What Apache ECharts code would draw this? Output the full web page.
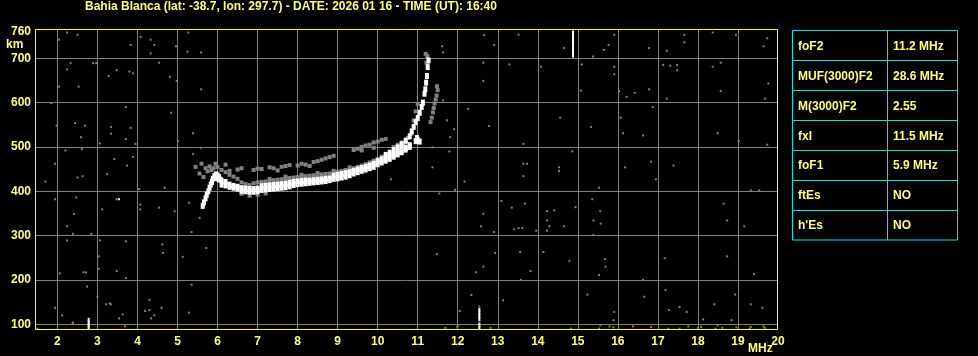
<!DOCTYPE html>
<html><head><meta charset="utf-8">
<script src="https://cdn.jsdelivr.net/npm/echarts@6/dist/echarts.min.js"></script>
<style>html,body{margin:0;padding:0;background:#000;}#c{width:978px;height:356px;}</style>
</head><body><div id="c"></div>
<script>
const titleText = 'Bahia Blanca (lat: -38.7, lon: 297.7) - DATE: 2026 01 16 - TIME (UT): 16:40';
const xTicks = [2,3,4,5,6,7,8,9,10,11,12,13,14,15,16,17,18,19];
const xLabels = [2,3,4,5,6,7,8,9,10,11,12,13,14,15,16,17,18,19,20];
const yTicks = [100,200,300,400,500,600,700];
const yLabels = [100,200,300,400,500,600,700,760];
const tableNames = ['foF2','MUF(3000)F2','M(3000)F2','fxI','foF1','ftEs',"h'Es"];
const tableValues = ['11.2 MHz','28.6 MHz','2.55','11.5 MHz','5.9 MHz','NO','NO'];

// bright echo trace (frequency MHz, virtual height km)
const whiteTrace = [
 [5.63,367],[5.66,375],[5.70,384],[5.73,392],[5.77,400],[5.80,408],[5.83,415],[5.86,421],
 [5.88,428],[5.92,434],[5.96,438],[6.00,436],[6.04,432],[5.95,430],[6.02,428],[6.07,426],
 [6.1,415],[6.1,424],[6.2,413],[6.2,421],[6.3,410],[6.3,415],[6.4,408],[6.4,412],[6.5,406],[6.5,410],
 [6.6,401],[6.6,407],[6.7,400],[6.7,406],[6.8,399],[6.8,405],[6.9,399],[6.9,405],[7.0,400],[7.0,406],
 [7.1,403],[7.1,411],[7.2,404],[7.2,412],[7.3,405],[7.3,413],[7.4,406],[7.4,414],[7.5,407],[7.5,415],
 [7.6,408],[7.6,416],[7.7,409],[7.7,417],[7.8,411],[7.8,419],[7.9,414],[7.9,421],[8.0,416],[8.0,422],
 [8.1,417],[8.1,423],[8.2,418],[8.2,424],[8.3,419],[8.3,424],[8.4,420],[8.4,425],[8.5,421],[8.5,426],
 [8.6,422],[8.6,427],[8.7,423],[8.7,428],[8.8,425],[8.8,429],[8.9,428],[8.9,435],[9.0,429],[9.0,437],
 [9.1,431],[9.1,439],[9.2,433],[9.2,441],[9.3,436],[9.3,443],[9.4,440],[9.4,446],[9.5,443],[9.5,449],
 [9.6,446],[9.6,452],[9.7,449],[9.7,455],[9.8,452],[9.8,458],[9.9,455],[9.9,462],[10.0,461],[10.0,468],
 [10.1,465],[10.1,472],[10.2,469],[10.2,476],[10.3,473],[10.3,480],[10.4,478],[10.4,484],[10.5,483],[10.5,488],
 [10.6,488],[10.6,493],[10.7,494],[10.7,498],[10.8,500],[10.8,504],
 [10.2,482],[10.3,487],[10.4,493],[10.5,499],[10.6,506],[10.7,514],[10.8,524],[10.85,535],[10.9,545],
 [10.95,556],[11.0,565],[11.05,577],[11.1,590],[11.13,600],[11.17,620],[11.19,630],[11.21,645],
 [11.23,660],[11.25,680],[11.27,695],
 [10.95,513],[11.0,516],[11.05,512],[10.98,520]
];
// weaker echoes
const grayTrace = [
 [7.0,420],[7.1,421],[7.2,422],[7.3,423],[7.4,425],[7.5,426],[7.6,427],[7.7,428],[7.8,430],[7.9,431],
 [8.0,432],[8.1,433],[8.2,434],[8.3,435],[8.4,436],[8.5,437],[8.6,438],[8.7,439],[8.8,440],[8.9,442],
 [9.0,444],[9.1,446],[9.2,448],[9.3,450],[9.4,452],[9.5,455],[9.6,458],[9.7,461],[9.8,465],[9.9,469],
 [10.0,473],[10.1,478],[7.3,428],[7.7,433],[8.1,437],[8.5,441],[8.9,446],[9.3,454],
 [6.3,446],[6.5,449],[6.6,452],[6.9,448],[7.0,451],[7.1,450],[7.3,454],[7.4,452],[7.6,455],[7.7,457],
 [7.8,459],[8.0,458],[8.1,462],[8.2,460],[8.4,466],[8.5,468],[8.6,471],[8.7,474],[8.8,477],[8.9,480],
 [7.5,447],[8.3,457],[9.4,493],[9.5,496],[9.6,500],[9.7,503],[9.8,505],[9.9,510],[10.0,512],[10.1,516],
 [10.2,518],[9.6,492],[9.9,498],
 [5.45,455],[5.6,462],[5.7,452],[5.75,445],[5.8,456],[5.85,448],[5.9,452],[6.0,455],[6.1,448],[6.2,443],
 [6.3,437],[6.4,433],[6.5,428],[6.6,420],[6.7,416],[6.8,414],[6.9,418],[6.2,460],[5.95,462],[5.55,440],
 [5.65,432],[6.6,394],[6.8,390],[7.0,392],[7.2,395],
 [11.32,556],[11.35,566],[11.38,578],[11.4,588],[11.42,598],[11.45,607],[11.47,616],[11.5,628],[11.48,637],
 [10.85,530],[10.9,560],[10.95,580],[11.0,597],[10.7,512],[10.75,520],[10.65,508],[11.22,690],[11.24,705],
 [11.2,710],[10.4,500],[10.5,505],[10.6,510]
];
// narrow vertical interference spikes
const spikes = [
 [2.78,92],[2.78,98],[2.78,104],[2.78,110],
 [12.54,92],[12.54,98],[12.54,112],[12.54,118],[12.54,125],[12.54,132],
 [14.88,706],[14.88,712],[14.88,720],[14.88,728],[14.88,736],[14.88,742],[14.88,750],[14.88,758]
];
// isolated background noise dots
const noise = [
 [2.04,742],[2.24,758],[2.50,753],[3.83,730],[4.33,742],[4.33,711],[4.42,730],[4.96,727],[5.25,715],[5.27,758],
 [5.59,713],[13.52,753],[12.91,730],[14.65,723],[15.38,704],[15.65,719],[15.77,730],[15.91,753],[16.78,723],
 [17.22,717],[17.66,753],[17.66,736],[18.37,758],[18.95,753],[19.64,727],[19.73,745],[11.61,727],[11.63,713],
 [4.08,748],[12.66,752],
 [2.33,689],[2.24,675],[2.89,689],[2.97,689],[3.28,660],[3.48,673],[3.80,670],[3.89,666],[4.54,690],[4.81,658],
 [4.98,649],[5.59,630],[2.53,636],[2.04,636],[12.64,690],[12.64,649],[13.29,686],[14.08,681],[15.10,686],
 [15.08,627],[15.91,681],[15.91,664],[16.03,626],[16.22,613],[16.42,622],[16.78,630],[17.22,609],[17.13,685],
 [17.31,683],[17.48,685],[17.48,673],[18.37,681],[18.57,690],[18.57,626],[19.76,643],[19.68,609],[11.49,632],
 [11.63,605],
 [1.85,599],[1.98,548],[2.44,554],[2.69,548],[2.59,522],[3.34,545],[3.34,530],[3.71,590],[3.71,518],[3.83,543],
 [3.95,507],[3.06,508],[4.84,577],[5.01,513],[5.39,531],[12.26,586],[12.78,547],[13.64,507],[14.56,566],
 [15.33,545],[16.07,566],[16.13,531],[16.63,526],[16.87,590],[18.49,531],[19.02,513],[19.73,505],[11.81,522],
 [11.91,540],[11.73,560],
 [2.2,492],[2.61,495],[1.94,462],[1.70,422],[2.50,431],[2.63,434],[3.24,439],[3.42,473],[3.74,458],[3.89,477],
 [4.04,405],[4.68,408],[5.39,484],[5.58,498],[11.37,499],[11.37,454],[11.79,490],[11.93,403],[12.17,422],
 [13.64,462],[13.64,434],[13.73,462],[14.53,454],[14.53,446],[14.86,490],[15.53,408],[16.18,454],[16.83,467],
 [16.95,427],[17.39,458],[19.32,402],[19.53,402],[10.33,427],
 [1.94,382],[2.47,386],[3.48,382],[3.12,359],[4.07,370],[4.07,359],[4.54,363],[4.93,355],[5.29,374],[5.55,340],
 [5.35,308],[2.41,349],[2.24,321],[2.39,304],[2.85,304],[13.09,378],[13.35,363],[13.68,372],[13.41,314],
 [13.52,317],[13.61,317],[13.96,311],[14.23,355],[14.41,357],[14.23,334],[14.29,321],[14.65,321],[14.23,311],
 [14.94,364],[15.36,382],[15.56,355],[15.39,334],[15.57,327],[15.39,301],[12.64,349],[12.58,321],[12.91,308],
 [18.64,372],[18.73,334],[19.16,321],[11.54,395],
 [2.24,289],[3.06,289],[3.71,287],[4.62,280],[4.64,261],[5.13,252],[5.72,272],[3.03,253],[2.06,215],[2.65,217],
 [2.71,217],[3.48,220],[3.71,204],[3.03,225],[11.48,258],[12.64,230],[12.46,217],[12.93,261],[13.56,263],
 [13.82,220],[14.14,263],[14.79,243],[15.68,247],[15.69,230],[17.17,249],[18.73,253],[19.40,213],[13.58,200],
 [16.63,200],[15.53,211],
 [1.94,137],[2.12,120],[2.38,102],[2.74,185],[3.0,162],[3.21,145],[3.34,145],[3.30,147],[3.54,113],[3.63,122],
 [4.19,130],[4.30,132],[4.42,120],[4.34,113],[4.60,137],[4.30,155],[5.29,126],[5.35,189],[12.05,130],[12.34,166],
 [13.13,154],[15.89,109],[15.24,167],[15.91,128],[16.66,162],[17.19,177],[17.28,132],[17.54,139],[17.72,128],
 [18.13,111],[18.41,145],[18.84,109],[18.93,167],[19.61,137],[19.32,145],[18.49,98],
 [11.99,94],[12.82,92],[15.89,93],[16.83,94],[17.54,90],[18.08,94],[18.96,93],[19.32,94],[19.67,92],[18.61,92],
 [14.83,90],[15.53,90],[1.5,90],[2.39,104],[3.69,95],[11.69,92],[12.0,98],[15.56,98],[15.79,95],[16.38,95],
 [17.26,90],[17.76,95],[18.0,92],[18.44,90],[19.29,90],[19.64,95],[12.54,140],[12.54,104]
];
const whiteDots = [[3.54,382]];

const LBL = '#ffff80';
const FONT = "'Liberation Sans', Arial, sans-serif";
const chart = echarts.init(document.getElementById('c'), null, {renderer: 'canvas'});

const tableGraphics = [];
const tx0 = 792.5, tx1 = 957.5, tcol = 887.5, ty0 = 30.5, rowH = 29.93;
tableGraphics.push({type:'rect', shape:{x:tx0, y:ty0, width:tx1-tx0, height:rowH*tableNames.length}, style:{fill:null, stroke:'#00e8e8', lineWidth:1}});
tableGraphics.push({type:'line', shape:{x1:tcol, y1:ty0, x2:tcol, y2:ty0+rowH*tableNames.length}, style:{stroke:'#00e8e8', lineWidth:1}});
tableNames.forEach((n, i) => {
  if (i > 0) tableGraphics.push({type:'line', shape:{x1:tx0, y1:Math.round(ty0+rowH*i)+0.5, x2:tx1, y2:Math.round(ty0+rowH*i)+0.5}, style:{stroke:'#00e8e8', lineWidth:1}});
  const cy = ty0 + rowH*i + rowH/2 + 1;
  tableGraphics.push({type:'text', x:798, y:cy, style:{text:n, fill:LBL, font:'bold 12px ' + FONT, verticalAlign:'middle', align:'left'}});
  tableGraphics.push({type:'text', x:893, y:cy, style:{text:tableValues[i], fill:LBL, font:'bold 12px ' + FONT, verticalAlign:'middle', align:'left'}});
});

const sq = (c, s) => ({type:'scatter', symbol:'rect', symbolSize:s, itemStyle:{color:c, opacity:1}, silent:true, animation:false, z: 3});

chart.setOption({
  backgroundColor: '#000',
  animation: false,
  title: {text: titleText, left: 85, top: 1, padding: 0,
    textStyle: {color: LBL, fontSize: 12, fontWeight: 'bold', fontFamily: FONT}},
  grid: {left: 35, top: 29, width: 743, height: 301, show: true, borderWidth: 0, backgroundColor: '#000'},
  xAxis: {type: 'value', min: 1.44, max: 20,
    axisLine: {show: false}, axisTick: {show: false, customValues: xTicks},
    splitLine: {show: true, lineStyle: {color: '#808080', width: 1}},
    axisLabel: {customValues: xLabels, color: LBL, fontSize: 12, fontWeight: 'bold', fontFamily: FONT, margin: 6}},
  yAxis: {type: 'value', min: 87, max: 766,
    axisLine: {show: false}, axisTick: {show: false, customValues: yTicks},
    splitLine: {show: true, lineStyle: {color: '#808080', width: 1}},
    axisLabel: {customValues: yLabels, color: LBL, fontSize: 12, fontWeight: 'bold', fontFamily: FONT, margin: 4}},
  graphic: [
    {type:'rect', z: 100, shape:{x:35.5, y:29.5, width:742, height:300}, style:{fill:null, stroke:'#ffff00', lineWidth:1}},
    {type:'text', x:6, y:45, style:{text:'km', fill:LBL, font:'bold 12px ' + FONT, verticalAlign:'middle'}},
    {type:'text', x:748, y:349, style:{text:'MHz', fill:LBL, font:'bold 12px ' + FONT, verticalAlign:'middle'}},
    ...tableGraphics
  ],
  series: [
    Object.assign(sq('#808080', [2,2]), {data: noise}),
    Object.assign(sq('#808080', [4,4]), {data: grayTrace}),
    Object.assign(sq('#ffffff', [4,6]), {data: whiteTrace}),
    Object.assign(sq('#ffffff', [2,4]), {data: spikes}),
    Object.assign(sq('#ffffff', [2,2]), {data: whiteDots})
  ]
});
</script></body></html>
